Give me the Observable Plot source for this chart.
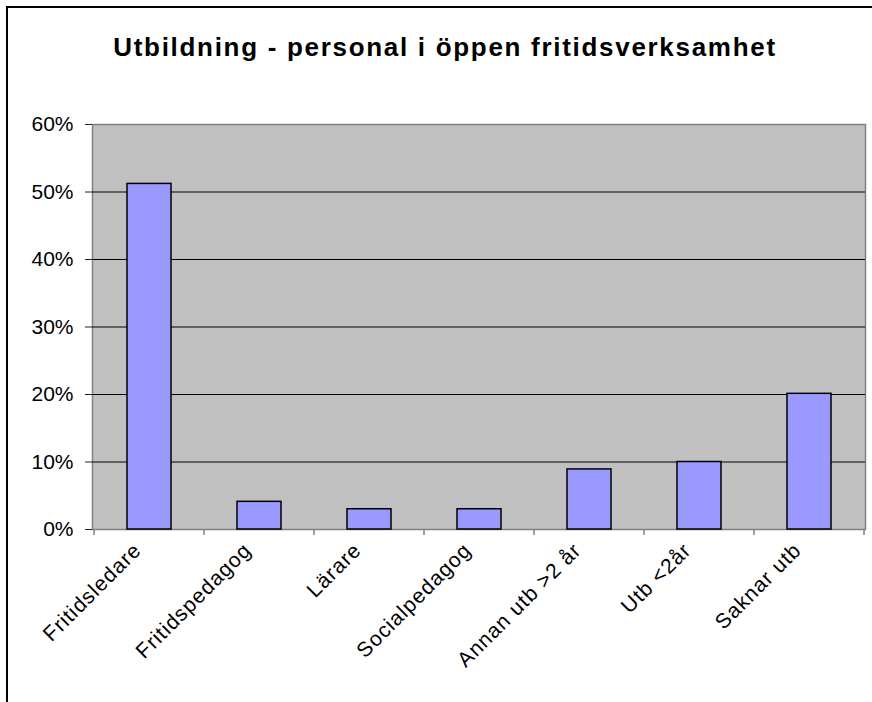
<!DOCTYPE html>
<html><head><meta charset="utf-8">
<script src="https://cdn.jsdelivr.net/npm/d3@7"></script>
<script src="https://cdn.jsdelivr.net/npm/@observablehq/plot@0.6"></script>
<style>
body{margin:0;background:#fff;}
#wrap{position:relative;width:872px;height:702px;overflow:hidden;font-family:"Liberation Sans",Arial,sans-serif;background:#fff;}
#frame{position:absolute;left:6px;top:6px;width:900px;height:800px;border-left:2px solid #000;border-top:2px solid #000;pointer-events:none;}
#title{box-sizing:border-box;height:100px;width:890px;padding-top:32px;text-align:center;font-weight:bold;font-size:26px;line-height:30px;letter-spacing:1.7px;color:#000;white-space:nowrap;}
svg{display:block;}
</style></head>
<body>
<div id="wrap">
<div id="title">Utbildning - personal i öppen fritidsverksamhet</div>
<div id="chart"></div>
<div id="frame"></div>
</div>
<script>
const categories = ["Fritidsledare","Fritidspedagog","Lärare","Socialpedagog","Annan utb >2 år","Utb <2år","Saknar utb"];
const shares = [0.512, 0.041, 0.030, 0.030, 0.089, 0.100, 0.201];
const yTicks = [0, 0.1, 0.2, 0.3, 0.4, 0.5, 0.6];

const data = categories.map((c, i) => ({category: c, share: shares[i]}));
const padIn = 0.6, padOut = 0.3;

const boundaryTicks = (index, scales) => {
  const x = scales.x, y = scales.y;
  const step = x(categories[1]) - x(categories[0]);
  const edges = categories.map(c => x(c) - padOut * step);
  edges.push(x(categories[categories.length - 1]) + (1 - padIn) * step + padOut * step);
  const g = d3.create("svg:g");
  g.selectAll("line").data(edges).join("line")
    .attr("x1", d => d).attr("x2", d => d)
    .attr("y1", y(0)).attr("y2", y(0) + 6)
    .attr("stroke", "#808080").attr("stroke-width", 1.5);
  return g.node();
};

const chart = Plot.plot({
  width: 872, height: 602,
  marginLeft: 92, marginRight: 7, marginTop: 24, marginBottom: 173,
  style: {fontFamily: "'Liberation Sans', Arial, sans-serif", fontSize: "21px", color: "#000", background: "transparent"},
  x: {domain: categories, paddingInner: padIn, paddingOuter: padOut, axis: null},
  y: {domain: [0, 0.6]},
  marks: [
    Plot.frame({fill: "#C0C0C0", stroke: "#808080", strokeWidth: 1.5}),
    Plot.gridY(yTicks.slice(1, -1), {stroke: "#000", strokeOpacity: 1, strokeWidth: 1}),
    Plot.barY(data, {x: "category", y: "share", fill: "#9999FF", stroke: "#000", strokeWidth: 1.5}),
    Plot.axisY(yTicks, {tickFormat: d3.format(".0%"), tickSize: 7, tickPadding: 12, label: null, stroke: "#222", fontSize: 21}),
    Plot.text(categories, {x: d => d, frameAnchor: "bottom", dx: -7, dy: 22, rotate: -45, textAnchor: "end", lineAnchor: "bottom", fontSize: 21, fill: "#000"}),
    boundaryTicks
  ]
});
chart.querySelectorAll("text").forEach(t => {
  if (categories.includes(t.textContent)) t.setAttribute("letter-spacing", "1");
});
document.getElementById("chart").appendChild(chart);
</script>
</body></html>
